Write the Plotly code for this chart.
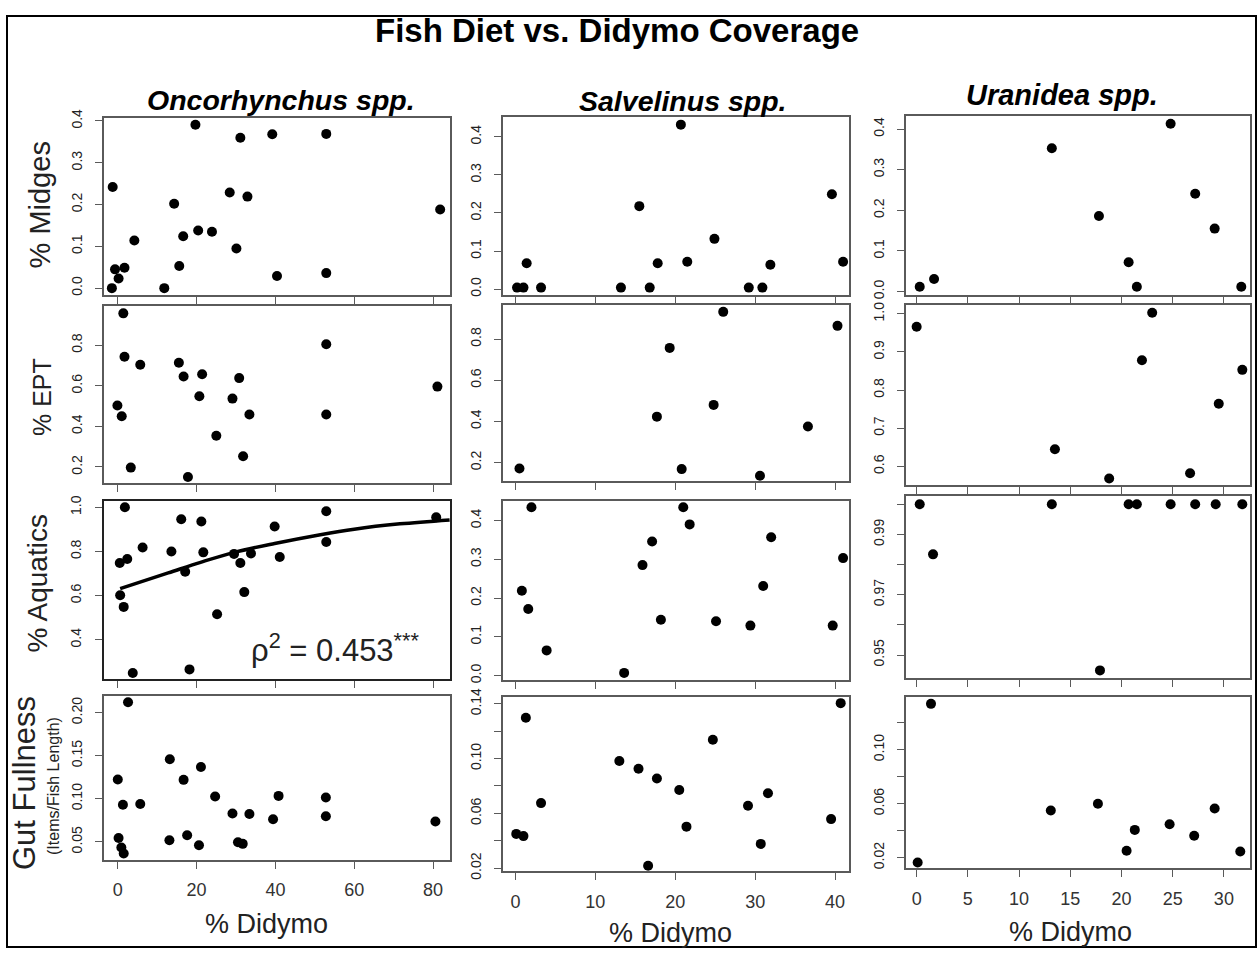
import plotly.graph_objects as go

W, H = 1259, 958

# ---------------- data ----------------
onc_midges_x = [-1.5, -1.3, -0.7, 0.2, 1.7, 4.2, 11.8, 14.3, 15.6, 16.6, 19.7, 20.4, 23.9, 28.4, 30.1, 31.1, 32.9, 39.2, 40.4, 52.9, 52.9, 81.8]
onc_midges_y = [0.0, 0.242, 0.045, 0.023, 0.049, 0.114, 0.0, 0.202, 0.053, 0.124, 0.391, 0.138, 0.135, 0.229, 0.095, 0.36, 0.219, 0.368, 0.029, 0.369, 0.036, 0.188]

onc_ept_x = [1.4, 1.7, 5.7, -0.1, 1.0, 3.3, 15.5, 16.7, 21.4, 20.7, 17.8, 25.0, 29.1, 30.8, 31.8, 33.4, 52.9, 52.9, 81.1]
onc_ept_y = [0.957, 0.743, 0.704, 0.503, 0.45, 0.197, 0.714, 0.646, 0.657, 0.549, 0.151, 0.354, 0.537, 0.638, 0.253, 0.459, 0.805, 0.459, 0.596]

onc_aq_x = [1.8, 0.5, 2.4, 0.6, 1.5, 3.8, 6.3, 13.6, 16.1, 17.1, 18.2, 21.2, 21.7, 25.2, 29.5, 31.1, 32.1, 33.8, 39.8, 41.1, 52.9, 52.9, 80.8]
onc_aq_y = [1.0, 0.748, 0.766, 0.602, 0.549, 0.25, 0.818, 0.8, 0.946, 0.708, 0.266, 0.936, 0.796, 0.516, 0.789, 0.748, 0.616, 0.791, 0.913, 0.775, 0.982, 0.843, 0.955]

onc_fit_x = [0.6, 12.8, 21.2, 29.6, 39.8, 51.4, 60.0, 71.6, 84.2]
onc_fit_y = [0.632, 0.703, 0.752, 0.796, 0.836, 0.876, 0.901, 0.925, 0.943]

onc_gut_x = [2.6, 0.0, 1.3, 5.7, 0.2, 0.9, 1.5, 13.2, 16.7, 21.1, 13.1, 17.6, 20.6, 24.7, 29.1, 33.4, 30.5, 31.7, 39.4, 40.8, 52.8, 52.8, 80.6]
onc_gut_y = [0.212, 0.1225, 0.093, 0.094, 0.0546, 0.0435, 0.0366, 0.146, 0.122, 0.137, 0.052, 0.0576, 0.046, 0.1027, 0.083, 0.0824, 0.0496, 0.0477, 0.0763, 0.1034, 0.1015, 0.0798, 0.0737]

sal_midges_x = [0.2, 1.0, 1.4, 3.2, 13.2, 15.5, 16.8, 17.8, 20.7, 21.5, 24.9, 29.2, 30.9, 31.9, 39.6, 41.0]
sal_midges_y = [0.004, 0.004, 0.068, 0.004, 0.004, 0.218, 0.004, 0.068, 0.432, 0.072, 0.132, 0.004, 0.004, 0.064, 0.249, 0.072]

sal_ept_x = [0.5, 17.7, 19.3, 20.8, 24.8, 26.0, 30.6, 36.6, 40.3]
sal_ept_y = [0.171, 0.423, 0.757, 0.168, 0.48, 0.932, 0.136, 0.375, 0.864]

sal_aq_x = [0.8, 2.0, 1.6, 3.9, 13.6, 15.9, 17.1, 18.2, 21.0, 21.8, 25.1, 29.4, 31.0, 32.0, 39.7, 41.0]
sal_aq_y = [0.219, 0.434, 0.172, 0.065, 0.007, 0.285, 0.346, 0.144, 0.434, 0.39, 0.14, 0.129, 0.231, 0.357, 0.129, 0.303]

sal_gut_x = [0.1, 1.0, 1.3, 3.2, 13.0, 15.4, 17.7, 16.6, 20.5, 21.4, 24.7, 29.1, 31.6, 30.7, 39.5, 40.7]
sal_gut_y = [0.045, 0.0434, 0.1298, 0.0675, 0.0983, 0.0926, 0.0854, 0.0217, 0.077, 0.0503, 0.1138, 0.0656, 0.0747, 0.0377, 0.0558, 0.1405]

ura_midges_x = [0.3, 1.7, 13.2, 17.8, 20.7, 21.5, 24.8, 27.2, 29.1, 31.7]
ura_midges_y = [0.012, 0.031, 0.353, 0.186, 0.072, 0.012, 0.413, 0.241, 0.155, 0.012]

ura_ept_x = [0.0, 13.5, 18.8, 22.0, 23.0, 26.7, 29.5, 31.8]
ura_ept_y = [0.966, 0.645, 0.568, 0.878, 1.003, 0.582, 0.764, 0.853]

ura_aq_x = [0.3, 1.6, 13.2, 20.7, 21.5, 24.8, 27.2, 29.2, 31.8, 17.9]
ura_aq_y = [1.0, 0.9834, 1.0, 1.0, 1.0, 1.0, 1.0, 1.0, 1.0, 0.9449]

ura_gut_x = [0.1, 1.4, 13.1, 17.7, 20.5, 21.3, 24.7, 27.1, 29.1, 31.6]
ura_gut_y = [0.0164, 0.134, 0.055, 0.06, 0.0251, 0.0406, 0.0448, 0.0363, 0.0564, 0.0246]

# tick labels
col_xticks = [[0, 20, 40, 60, 80], [0, 10, 20, 30, 40], [0, 5, 10, 15, 20, 25, 30]]
ytick_vals = [
    [0.0, 0.1, 0.2, 0.3, 0.4], [0.0, 0.1, 0.2, 0.3, 0.4], [0.0, 0.1, 0.2, 0.3, 0.4],
    [0.2, 0.4, 0.6, 0.8], [0.2, 0.4, 0.6, 0.8], [0.6, 0.7, 0.8, 0.9, 1.0],
    [0.4, 0.6, 0.8, 1.0], [0.0, 0.1, 0.2, 0.3, 0.4], [0.95, 0.96, 0.97, 0.98, 0.99, 1.00],
    [0.05, 0.10, 0.15, 0.20], [0.02, 0.04, 0.06, 0.08, 0.10, 0.12, 0.14], [0.02, 0.04, 0.06, 0.08, 0.10, 0.12],
]
ytick_text = [
    ["0.0", "0.1", "0.2", "0.3", "0.4"], ["0.0", "0.1", "0.2", "0.3", "0.4"], ["0.0", "0.1", "0.2", "0.3", "0.4"],
    ["0.2", "0.4", "0.6", "0.8"], ["0.2", "0.4", "0.6", "0.8"], ["0.6", "0.7", "0.8", "0.9", "1.0"],
    ["0.4", "0.6", "0.8", "1.0"], ["0.0", "0.1", "0.2", "0.3", "0.4"], ["0.95", "", "0.97", "", "0.99", ""],
    ["0.05", "0.10", "0.15", "0.20"], ["0.02", "", "0.06", "", "0.10", "", "0.14"], ["0.02", "", "0.06", "", "0.10", ""],
]

species = ["Oncorhynchus spp.", "Salvelinus spp.", "Uranidea spp."]
row_titles = ["% Midges", "% EPT", "% Aquatics"]

series = [
    (onc_midges_x, onc_midges_y), (sal_midges_x, sal_midges_y), (ura_midges_x, ura_midges_y),
    (onc_ept_x, onc_ept_y), (sal_ept_x, sal_ept_y), (ura_ept_x, ura_ept_y),
    (onc_aq_x, onc_aq_y), (sal_aq_x, sal_aq_y), (ura_aq_x, ura_aq_y),
    (onc_gut_x, onc_gut_y), (sal_gut_x, sal_gut_y), (ura_gut_x, ura_gut_y),
]

# ---------------- layout geometry (page pixels) ----------------
col_box_x = [(104, 450), (503, 849), (906, 1250)]
panel_box_y = [
    (111, 291), (110, 291), (109, 291),
    (302, 483), (301, 481), (301, 485),
    (501, 682), (501, 683), (496, 681),
    (699, 866), (700, 878), (700, 875),
]
x_ranges = [(-3.5, 84.3), (-1.56, 41.74), (-1.04, 32.55)]
y_ranges = [
    (-0.016, 0.407), (-0.015, 0.452), (-0.008, 0.432),
    (0.119, 0.995), (0.108, 0.967), (0.55, 1.024),
    (0.223, 1.028), (-0.011, 0.45), (0.9424, 1.0027),
    (0.0294, 0.2198), (0.0176, 0.1453), (0.012, 0.1394),
]

FONT = "Liberation Sans, Arial, sans-serif"
BOX = "#5a5a5a"
TXT = "#222222"

def fx(px):
    return px / W

def fy(px):
    return 1 - px / H

fig = go.Figure()
layout = {}
for k in range(12):
    r, c = divmod(k, 3)
    idx = "" if k == 0 else str(k + 1)
    xs, ys = series[k]
    fig.add_trace(go.Scatter(
        x=xs, y=ys, mode="markers", xaxis="x" + idx, yaxis="y" + idx,
        marker=dict(color="black", size=10, line=dict(width=0)), showlegend=False,
        hoverinfo="skip"))
    x0, x1 = col_box_x[c]
    y0, y1 = panel_box_y[k]
    layout["xaxis" + idx] = dict(
        domain=[fx(x0), fx(x1)], anchor="y" + idx, range=list(x_ranges[c]),
        tickvals=col_xticks[c], ticktext=[str(v) for v in col_xticks[c]],
        showticklabels=(r == 3), ticks="outside", ticklen=7, tickwidth=1.3, tickcolor=BOX,
        ticklabelstandoff=6,
        showline=True, mirror=True, linecolor=BOX, linewidth=1.8,
        showgrid=False, zeroline=False,
        tickfont=dict(family=FONT, size=18, color="#333"))
    layout["yaxis" + idx] = dict(
        domain=[fy(y1), fy(y0)], anchor="x" + idx, range=list(y_ranges[k]),
        tickvals=ytick_vals[k], ticktext=ytick_text[k], tickangle=-90,
        ticks="outside", ticklen=7, tickwidth=1.3, tickcolor=BOX,
        ticklabelstandoff=8,
        showline=True, mirror=True, linecolor=BOX, linewidth=1.8,
        showgrid=False, zeroline=False,
        tickfont=dict(family=FONT, size=14, color=TXT))

# fitted curve on Oncorhynchus % Aquatics
fig.add_trace(go.Scatter(
    x=onc_fit_x, y=onc_fit_y, mode="lines", xaxis="x7", yaxis="y7",
    line=dict(color="black", width=3.5, shape="spline"), showlegend=False, hoverinfo="skip"))
layout["xaxis7"]["linecolor"] = "#222"
layout["yaxis7"]["linecolor"] = "#222"
layout["xaxis7"]["linewidth"] = 2.2
layout["yaxis7"]["linewidth"] = 2.2


def note(text, px, py, size, angle=0, color=TXT):
    return dict(text=text, x=fx(px), y=fy(py), xref="paper", yref="paper",
                xanchor="center", yanchor="middle", textangle=angle, showarrow=False,
                font=dict(family=FONT, size=size, color=color))


ann = []
ann.append(note("<b>Fish Diet vs. Didymo Coverage</b>", 617, 22, 33, color="black"))
for name, cx, cy, sz in zip(species, [281, 683, 1062], [93, 94, 88], [28.5, 28.5, 29]):
    ann.append(note("<b><i>" + name + "</i></b>", cx, cy, sz, color="black"))
for name, cx, cy, sz in zip(row_titles, [40, 42, 38], [200, 395, 585], [29, 25, 28]):
    ann.append(note(name, cx, cy, sz, angle=-90))
ann.append(note("Gut Fullness", 24, 788, 31, angle=-90))
ann.append(note("(Items/Fish Length)", 54, 791, 16, angle=-90))
for cx, cy in zip([266, 670, 1070], [932, 941, 940]):
    ann.append(note("% Didymo", cx, cy, 27))
ann.append(dict(text="\u03c1<sup>2</sup> = 0.453<sup>***</sup>", x=55.1, y=0.365, xref="x7", yref="y7",
                xanchor="center", yanchor="middle", showarrow=False,
                font=dict(family=FONT, size=31, color=TXT)))

shapes = [dict(type="rect", xref="paper", yref="paper", x0=fx(7), x1=fx(1256), y0=fy(955), y1=fy(7),
               line=dict(color="black", width=2))]

fig.update_layout(
    width=W, height=H, margin=dict(l=0, r=0, t=0, b=0), autosize=False,
    paper_bgcolor="white", plot_bgcolor="white",
    annotations=ann, shapes=shapes, showlegend=False, **layout)

fig.write_html(
    "out.html",
    config={"displayModeBar": False, "responsive": False},
    post_script=("document.documentElement.style.margin='0';document.body.style.margin='0';"
                 "document.body.style.padding='0';document.body.style.overflow='hidden';"
                 "document.documentElement.style.overflow='hidden';"
                 "var gd=document.getElementById('{plot_id}');"
                 "gd.style.position='fixed';gd.style.left='0px';gd.style.top='0px';"
                 "gd.style.margin='0';"))
